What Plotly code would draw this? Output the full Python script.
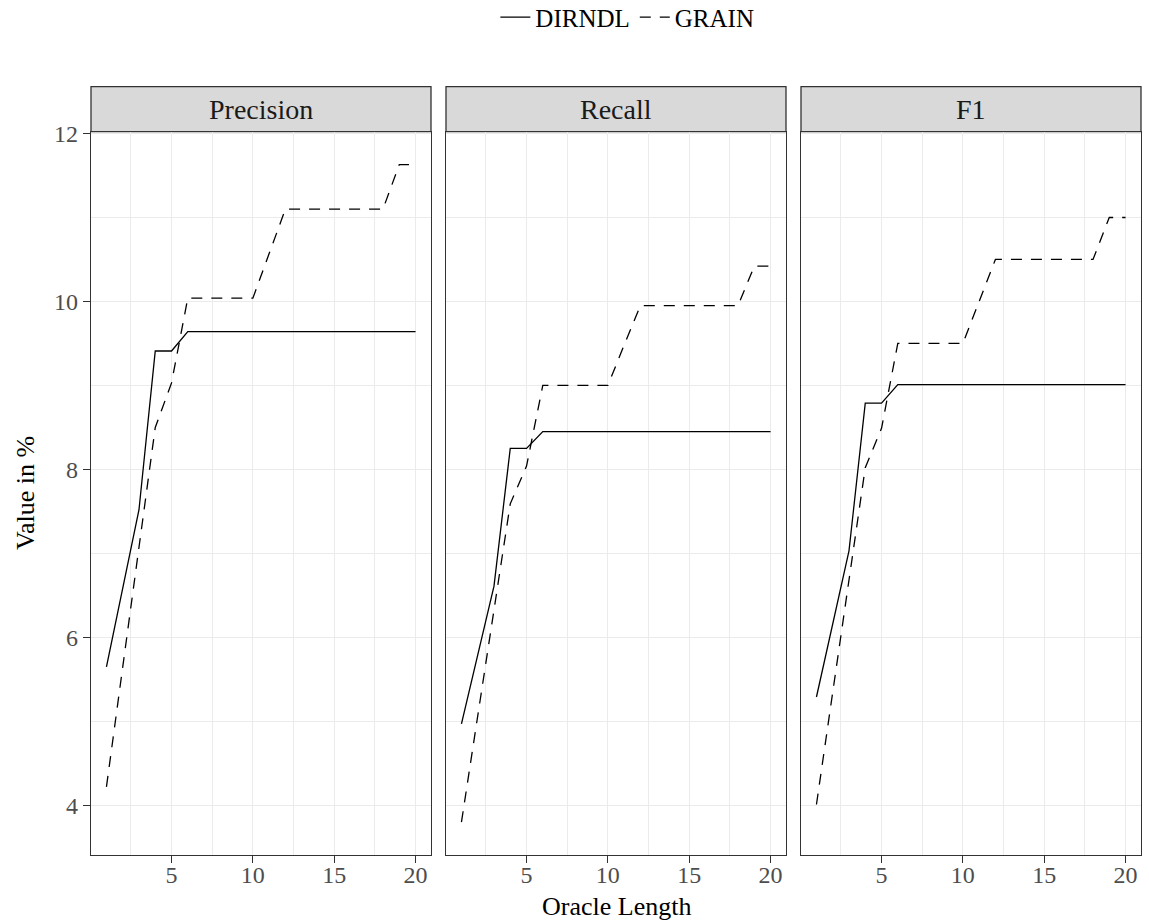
import plotly.graph_objects as go

# Oracle length values shared by every panel
oracle_length = list(range(1, 21))

panels = ["Precision", "Recall", "F1"]

# DIRNDL scores (in %) per metric
dirndl_precision = [5.65, 6.58, 7.52, 9.41, 9.41] + [9.64] * 15
dirndl_recall = [4.97, 5.79, 6.61, 8.25, 8.25] + [8.45] * 15
dirndl_f1 = [5.29, 6.16, 7.03, 8.79, 8.79] + [9.01] * 15

# GRAIN scores (in %) per metric
grain_precision = [4.22, 5.65, 7.08, 8.50, 9.03] + [10.04] * 5 + [10.57] + [11.10] * 7 + [11.63] * 2
grain_recall = [3.80, 5.06, 6.33, 7.59, 8.04] + [9.00] * 5 + [9.48] + [9.95] * 7 + [10.42] * 2
grain_f1 = [4.01, 5.35, 6.68, 8.02, 8.49] + [9.50] * 5 + [10.00] + [10.50] * 7 + [11.00] * 2

dirndl = [dirndl_precision, dirndl_recall, dirndl_f1]
grain = [grain_precision, grain_recall, grain_f1]

W, H = 1149, 922
FONT = "Liberation Serif"
BORDER = "#333333"
GRID = "#EBEBEB"

# panel geometry in pixels
panel_left = [91, 446, 801]
panel_w = 340
panel_top, panel_bottom = 131.7, 855
strip_top = 86.7

fig = go.Figure()

for i, name in enumerate(panels):
    ax = "" if i == 0 else str(i + 1)
    fig.add_trace(go.Scatter(
        x=oracle_length, y=dirndl[i], mode="lines", name="DIRNDL",
        line=dict(color="black", width=1.3),
        xaxis="x" + ax, yaxis="y" + ax, legendgroup="DIRNDL", showlegend=(i == 0)))
    fig.add_trace(go.Scatter(
        x=oracle_length, y=grain[i], mode="lines", name="GRAIN",
        line=dict(color="black", width=1.3, dash="11px,9px"),
        xaxis="x" + ax, yaxis="y" + ax, legendgroup="GRAIN", showlegend=(i == 0)))

all_vals = [v for s in dirndl + grain for v in s]
ymin, ymax = min(all_vals), max(all_vals)
pad = (ymax - ymin) * 0.05
yrange = [ymin - pad, ymax + pad]
xrange = [1 - 0.95, 20 + 0.95]

layout = dict(
    width=W, height=H,
    margin=dict(l=0, r=0, t=0, b=0, autoexpand=False),
    paper_bgcolor="white", plot_bgcolor="white",
    font=dict(family=FONT, color="black"),
    showlegend=True,
    legend=dict(orientation="h", x=0.546, xanchor="center", y=1.006, yanchor="top",
                font=dict(size=25, family=FONT, color="black"),
                itemwidth=30, tracegroupgap=0, bgcolor="rgba(0,0,0,0)"),
)

shapes = []
annotations = []
for i, name in enumerate(panels):
    ax = "" if i == 0 else str(i + 1)
    x0 = panel_left[i] / W
    x1 = (panel_left[i] + panel_w) / W
    layout["xaxis" + ax] = dict(
        domain=[x0, x1], range=xrange, anchor="y" + ax,
        tick0=0, dtick=5, ticks="outside", ticklen=7, tickwidth=1.3, tickcolor=BORDER,
        ticklabelstandoff=-9,
        tickfont=dict(size=24, family=FONT, color="#4D4D4D"),
        showgrid=True, gridcolor=GRID, gridwidth=1.3,
        minor=dict(dtick=2.5, tick0=0, showgrid=True, gridcolor=GRID, gridwidth=0.8, ticks=""),
        showline=True, linecolor=BORDER, linewidth=1.3, mirror=True, zeroline=False,
    )
    layout["yaxis" + ax] = dict(
        domain=[(H - panel_bottom) / H, (H - panel_top) / H], range=yrange, anchor="x" + ax,
        tick0=0, dtick=2,
        ticks="outside" if i == 0 else "", ticklen=7, tickwidth=1.3, tickcolor=BORDER,
        showticklabels=(i == 0),
        tickfont=dict(size=24, family=FONT, color="#4D4D4D"),
        showgrid=True, gridcolor=GRID, gridwidth=1.3,
        minor=dict(dtick=1, tick0=0, showgrid=True, gridcolor=GRID, gridwidth=0.8, ticks=""),
        showline=True, linecolor=BORDER, linewidth=1.3, mirror=True, zeroline=False,
    )
    # facet strip
    shapes.append(dict(type="rect", xref="paper", yref="paper",
                       x0=x0, x1=x1, y0=(H - panel_top) / H, y1=(H - strip_top) / H,
                       fillcolor="#D9D9D9", line=dict(color=BORDER, width=1.3), layer="below"))
    annotations.append(dict(text=name, xref="paper", yref="paper",
                            x=(x0 + x1) / 2, y=(H - (strip_top + panel_top) / 2) / H,
                            xanchor="center", yanchor="middle", showarrow=False,
                            font=dict(size=28, family=FONT, color="#1A1A1A")))

# axis titles
annotations.append(dict(text="Oracle Length", xref="paper", yref="paper",
                        x=616 / W, y=(H - 906) / H, xanchor="center", yanchor="middle",
                        showarrow=False, font=dict(size=26, family=FONT, color="black")))
annotations.append(dict(text="Value in %", xref="paper", yref="paper",
                        x=25 / W, y=(H - 493) / H, xanchor="center", yanchor="middle",
                        textangle=-90, showarrow=False,
                        font=dict(size=26, family=FONT, color="black")))

layout["shapes"] = shapes
layout["annotations"] = annotations
fig.update_layout(**layout)

fig.write_html("out.html")
